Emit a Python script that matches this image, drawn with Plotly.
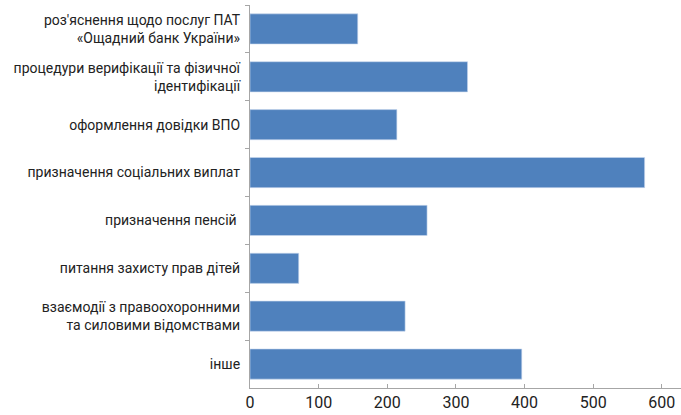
import plotly.graph_objects as go

categories = [
    "роз'яснення щодо послуг ПАТ<br>«Ощадний банк України»",
    "процедури верифікації та фізичної<br>ідентифікації",
    "оформлення довідки ВПО",
    "призначення соціальних виплат",
    "призначення пенсій ",
    "питання захисту прав дітей",
    "взаємодії з правоохоронними<br>та силовими відомствами",
    "інше",
]
values = [157, 317, 214, 575, 258, 71, 226, 396]
x_ticks = [0, 100, 200, 300, 400, 500, 600]

fig = go.Figure(
    go.Bar(
        x=values,
        y=categories,
        orientation="h",
        marker=dict(color="#4f81bd", line=dict(color="#c9d9ee", width=0.6)),
    )
)

fig.update_layout(
    width=681,
    height=415,
    margin=dict(l=250, r=0, t=5, b=27),
    paper_bgcolor="white",
    plot_bgcolor="white",
    bargap=0.37,
    showlegend=False,
    font=dict(family="Roboto", size=14, color="#222222"),
)

fig.update_xaxes(
    range=[0, 628],
    tickvals=x_ticks,
    ticktext=[str(v) for v in x_ticks],
    showgrid=False,
    zeroline=False,
    showline=True,
    linecolor="#a6a6a6",
    linewidth=1.2,
    ticks="inside",
    ticklen=4,
    tickcolor="#a6a6a6",
    tickfont=dict(size=16, color="#222222"),
    automargin=False,
)

fig.update_yaxes(
    autorange="reversed",
    categoryorder="array",
    categoryarray=categories,
    tickson="boundaries",
    showgrid=False,
    showline=True,
    linecolor="#a6a6a6",
    linewidth=1.2,
    ticks="outside",
    ticklen=4,
    tickcolor="#a6a6a6",
    ticklabelstandoff=6,
    tickfont=dict(size=14, color="#222222"),
    automargin=False,
)

fig.write_html(
    "out.html",
    config={"displayModeBar": False},
    post_script="document.body.style.margin='0';document.body.style.overflow='hidden';",
)
